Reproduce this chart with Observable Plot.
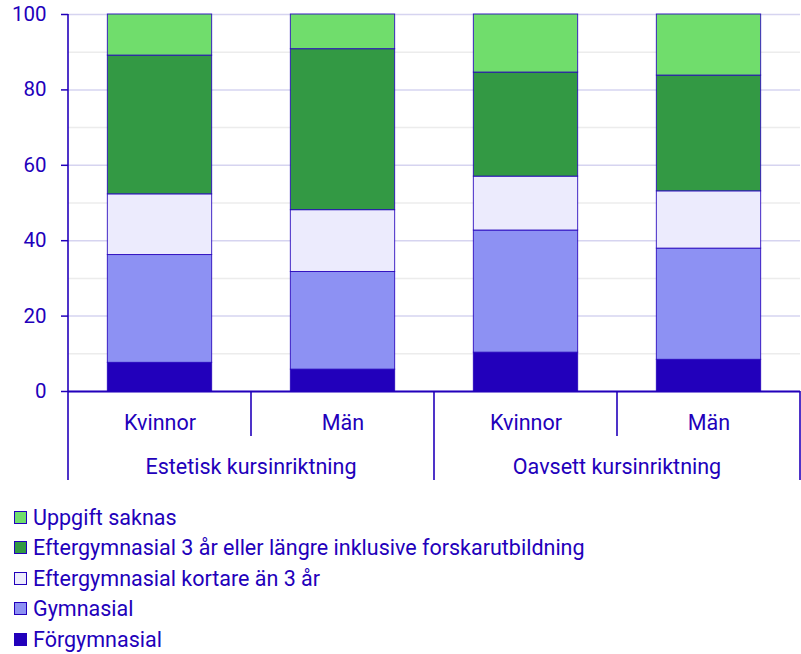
<!DOCTYPE html>
<html>
<head>
<meta charset="utf-8">
<script src="https://cdn.jsdelivr.net/npm/d3@7"></script>
<script src="https://cdn.jsdelivr.net/npm/@observablehq/plot@0.6"></script>
<style>
  body { margin: 0; background: #fff; font-family: Roboto, sans-serif; color: #2200bb; }
  #legend { margin: 0; padding: 0 0 0 14px; font-size: 21.5px; }
  .item { height: 30.5px; display: flex; align-items: center; }
  .sw { width: 11px; height: 11px; border: 1px solid #2200bb; margin-right: 6px; box-sizing: content-box; flex: none; }
</style>
</head>
<body>
<div id="chart"></div>
<div id="legend"></div>
<script>
const groups = ["Estetisk kursinriktning", "Estetisk kursinriktning", "Oavsett kursinriktning", "Oavsett kursinriktning"];
const genders = ["Kvinnor", "Män", "Kvinnor", "Män"];
const series = ["Förgymnasial", "Gymnasial", "Eftergymnasial kortare än 3 år", "Eftergymnasial 3 år eller längre inklusive forskarutbildning", "Uppgift saknas"];
const colors = ["#2200bb", "#8d91f3", "#ecebfd", "#339944", "#70dd6c"];
const forgymnasial = [7.6, 5.8, 10.3, 8.4];
const gymnasial = [28.6, 25.9, 32.4, 29.5];
const kortare = [16.1, 16.4, 14.3, 15.2];
const langre = [36.8, 42.7, 27.6, 30.7];
const saknas = [10.9, 9.2, 15.4, 16.2];
const yTicks = [0, 20, 40, 60, 80, 100];
const yMinor = [10, 30, 50, 70, 90];

const values = [forgymnasial, gymnasial, kortare, langre, saknas];
const keys = groups.map((g, i) => g + "|" + genders[i]);
const data = [];
series.forEach((s, si) => keys.forEach((k, i) => data.push({key: k, series: s, value: values[si][i]})));

const blue = "#2200bb";
const plot = Plot.plot({
  width: 801,
  height: 502,
  marginLeft: 68,
  marginRight: 1,
  marginTop: 14,
  marginBottom: 111,
  style: {fontFamily: "Roboto, sans-serif", fontSize: "21.5px", color: blue, background: "#fff"},
  x: {domain: keys, paddingInner: 0.43, paddingOuter: 0.215, label: null, round: false},
  y: {domain: [0, 100], label: null},
  color: {domain: series, range: colors},
  marks: [
    Plot.gridY(yMinor, {stroke: "#ececec", strokeOpacity: 1, strokeWidth: 1.5}),
    Plot.gridY(yTicks, {stroke: "#d6d4f0", strokeOpacity: 1, strokeWidth: 1.5}),
    Plot.barY(data, {x: "key", y: "value", fill: "series", order: series, stroke: blue, strokeWidth: 1, strokeOpacity: 0.85}),
    Plot.axisY(yTicks, {tickSize: 7, tickPadding: 15, stroke: blue, strokeWidth: 1.5, fill: blue, fontSize: 20.5}),
    Plot.axisX({tickSize: 0, tickPadding: 23, tickFormat: d => d.split("|")[1], fill: blue, fontSize: 21.5}),
    Plot.ruleY([0], {stroke: blue, strokeWidth: 2})
  ]
});
document.getElementById("chart").appendChild(plot);

// axis decorations derived from the x scale
const xs = plot.scale("x");
const ys = plot.scale("y");
const step = xs.step, bw = xs.bandwidth;
const svg = d3.select(plot);
const y0 = ys.apply(0), y100 = ys.apply(100);
const g = svg.append("g").attr("stroke", blue).attr("stroke-width", 1.6);
// y axis line
const xLeft = xs.apply(keys[0]) - (step - bw) / 2;
g.append("line").attr("x1", xLeft).attr("x2", xLeft).attr("y1", y100).attr("y2", y0);
// separators
const boundaries = keys.map(k => xs.apply(k) - (step - bw) / 2).concat([xs.apply(keys[keys.length - 1]) + bw + (step - bw) / 2]);
boundaries.forEach((bx, i) => {
  const outer = i === 0 || i === boundaries.length - 1 || groups[i] !== groups[i - 1];
  g.append("line").attr("x1", bx).attr("x2", bx).attr("y1", y0).attr("y2", y0 + (outer ? 89 : 45));
});
// group labels
const uniq = [...new Set(groups)];
uniq.forEach(grp => {
  const ks = keys.filter((k, i) => groups[i] === grp);
  const cx = (xs.apply(ks[0]) + xs.apply(ks[ks.length - 1]) + bw) / 2;
  svg.append("text").attr("x", cx).attr("y", y0 + 75).attr("dy", "0.35em").attr("text-anchor", "middle")
    .attr("fill", blue).attr("font-size", 21.5).attr("font-family", "Roboto, sans-serif").text(grp);
});

// legend
const legend = d3.select("#legend");
series.slice().reverse().forEach((s) => {
  const item = legend.append("div").attr("class", "item");
  item.append("span").attr("class", "sw").style("background", colors[series.indexOf(s)]);
  item.append("span").text(s);
});
</script>
</body>
</html>
